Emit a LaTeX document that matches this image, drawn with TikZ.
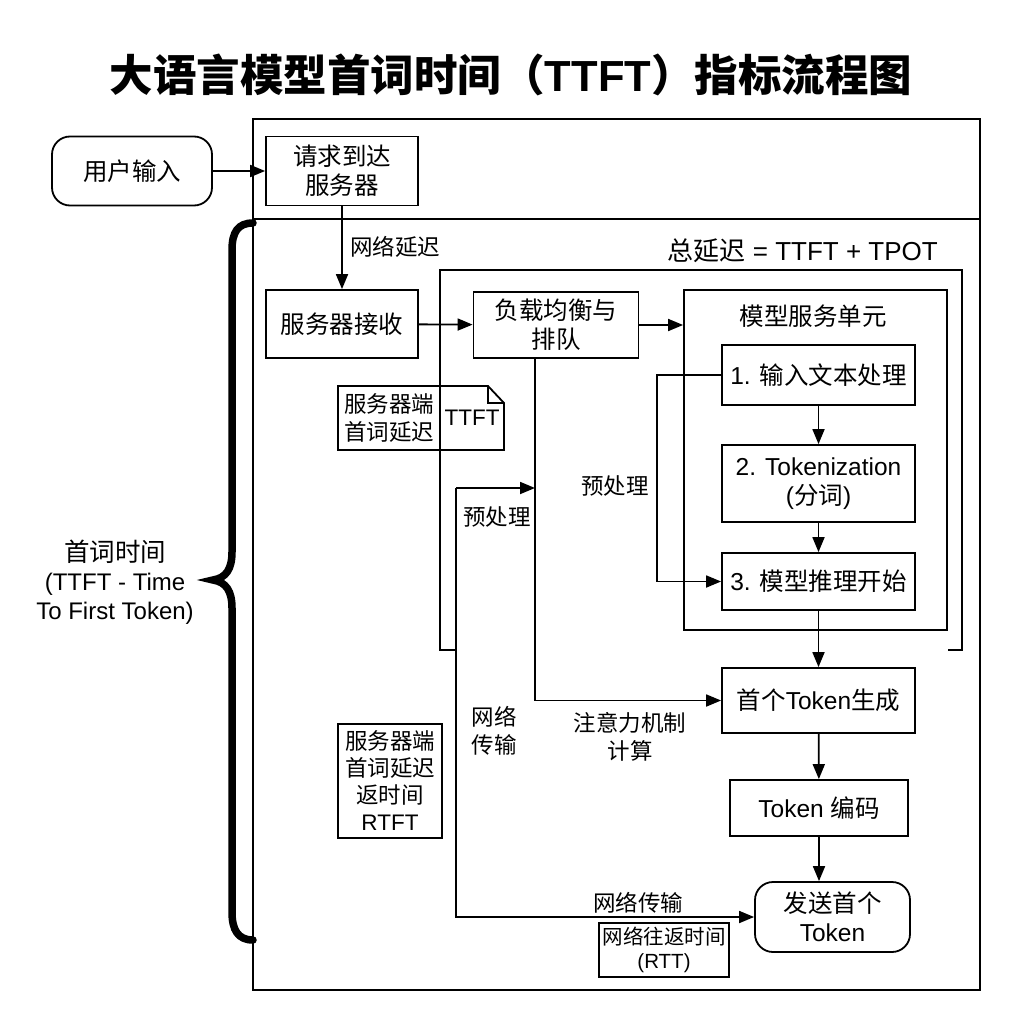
\documentclass[tikz,border=0pt]{standalone}
\usepackage{fontspec}
\setmainfont{Liberation Sans}
\newfontfamily\cjk{Noto Sans CJK SC}
\newcommand{\zh}[1]{{\cjk #1}}
\usetikzlibrary{arrows.meta,calc}
\begin{document}
\begin{tikzpicture}[x=1pt,y=-1pt,
  lw/.style={line width=1.8pt},
  box/.style={draw,lw,align=center,inner sep=0pt,font=\fontsize{24.5}{29}\selectfont},
  rbox/.style={box,rounded corners=18pt},
  lbl/.style={align=center,inner sep=0pt,font=\fontsize{22.5}{28}\selectfont},
  arr/.style={lw,-{Triangle[length=15pt,width=12pt]}},
  ln/.style={lw}]
\useasboundingbox (0,0) rectangle (1024,1024);
% title
\node[inner sep=0pt,font=\fontsize{43.5}{50}\selectfont\bfseries] (title) at (511,75)
  {\zh{大语言模型首词时间（}TTFT\zh{）指标流程图}};
% outer frame
\draw[ln] (253,119) rectangle (980,990);
\draw[ln] (253,219) -- (980,219);
% brace
\draw[line width=7.5pt,line cap=round] (253,223) .. controls (238,223) and (232,232) .. (232,250)
  -- (232,552) .. controls (232,569) and (226,578) .. (213,580)
  .. controls (226,582) and (232,591) .. (232,608)
  -- (232,912) .. controls (232,930) and (238,940) .. (253,940);
\node[lbl,font=\fontsize{24}{29}\selectfont] (ttftlbl) at (115,582) {{\fontsize{25.5}{29}\selectfont\zh{首词时间}}\\(TTFT - Time\\To First Token)};
% big bracket frame (total latency)
\draw[ln] (456,650) -- (440,650) -- (440,270) -- (962,270) -- (962,650) -- (948,650);
\node[lbl,anchor=east,font=\fontsize{26}{30}\selectfont] (total) at (938,251) {\zh{总延迟} = TTFT + TPOT};
% note shape
\draw[ln,fill=white] (338,386) -- (488,386) -- (504,403) -- (504,450) -- (338,450) -- cycle;
\draw[ln] (488,386) -- (488,403) -- (504,403);
\draw[ln] (440,386) -- (440,450);
\node[lbl] (note1) at (389,418) {\zh{服务器端}\\\zh{首词延迟}};
\node[lbl] (note2) at (472,418) {TTFT};
% nodes
\node[rbox,minimum width=160pt,minimum height=69pt] (user) at (132,171) {\zh{用户输入}};
\node[box,minimum width=152pt,minimum height=69pt] (req) at (342,171) {\zh{请求到达}\\\zh{服务器}};
\node[box,minimum width=152pt,minimum height=68pt] (recv) at (342,324) {\zh{服务器接收}};
\node[box,minimum width=165pt,minimum height=66pt] (lb) at (556,325) {\zh{负载均衡与}\\\zh{排队}};
\node[draw,lw,minimum width=263pt,minimum height=340pt,inner sep=0pt] (msu) at (815.5,460) {};
\node[lbl,font=\fontsize{24.5}{28}\selectfont] (msut) at (813,316) {\zh{模型服务单元}};
\node[box,minimum width=193pt,minimum height=60pt] (s1) at (818.5,375) {1. \zh{输入文本处理}};
\node[box,minimum width=193pt,minimum height=77pt] (s2) at (818.5,483.5) {2. Tokenization\\(\zh{分词})};
\node[box,minimum width=193pt,minimum height=57pt] (s3) at (818.5,581.5) {3. \zh{模型推理开始}};
\node[box,minimum width=193pt,minimum height=65pt] (first) at (818.5,700.5) {\zh{首个}Token\zh{生成}};
\node[box,minimum width=178pt,minimum height=56pt] (enc) at (819,808) {Token \zh{编码}};
\node[rbox,minimum width=155pt,minimum height=70pt] (send) at (832.5,917) {\zh{发送首个}\\Token};
\node[box,minimum width=130pt,minimum height=54pt,font=\fontsize{20.5}{24}\selectfont] (rtt) at (664,950) {\zh{网络往返时间}\\(RTT)};
\node[box,minimum width=104pt,minimum height=114pt,font=\fontsize{22.5}{27}\selectfont] (rtft) at (390,781) {\zh{服务器端}\\\zh{首词延迟}\\\zh{返时间}\\RTFT};
% connectors
\draw[arr] (user) -- (req);
\draw[arr] (req) -- (recv);
\node[lbl,anchor=west] (netdelay) at (350,247) {\zh{网络延迟}};
\draw[arr] (recv) -- (lb);
\draw[arr] (lb.east) -- (lb.east -| msu.west);
\draw[arr] (s1) -- (s2);
\draw[arr] (s2) -- (s3);
\draw[arr] (s3) -- (first);
\draw[arr] (first) -- (enc);
\draw[arr] (enc.south) -- (enc.south |- send.north);
\coordinate (bypass) at (657,375);
\draw[arr] (s1.west) -- (bypass) |- (s3.west);
\node[lbl] (pre1) at (615,486) {\zh{预处理}};
\coordinate (lbout) at (535,358);
\draw[arr] (lbout) |- (first.west);
\node[lbl] (attn) at (630,737) {\zh{注意力机制}\\\zh{计算}};
\coordinate (np) at (456,488);
\draw[arr] (np) -- (lbout |- np);
\draw[arr] (np) |- (send.west);
\node[lbl] (pre2) at (497,517) {\zh{预处理}};
\node[lbl] (net1) at (494,731) {\zh{网络}\\\zh{传输}};
\node[lbl] (net2) at (638,903) {\zh{网络传输}};
\end{tikzpicture}
\end{document}
